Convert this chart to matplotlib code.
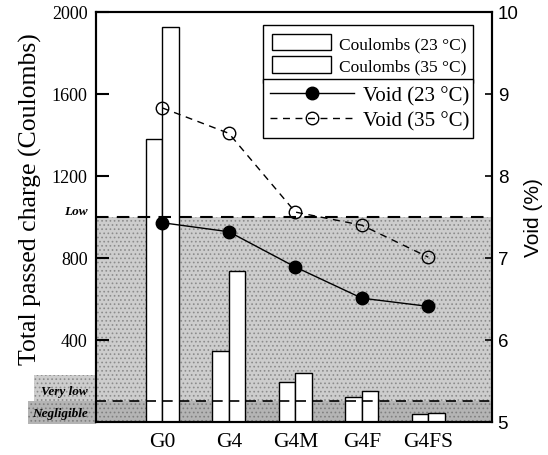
import matplotlib
matplotlib.use("Agg")
import matplotlib.pyplot as plt
from matplotlib.patches import Rectangle
import numpy as np

mixes = ["G0", "G4", "G4M", "G4F", "G4FS"]
charge_23 = [1380, 347, 196, 122, 39]
charge_35 = [1925, 738, 240, 150, 44]
void_23 = [7.43, 7.32, 6.89, 6.51, 6.41]
void_35 = [8.83, 8.52, 7.56, 7.40, 7.01]
limit_low = 1000
limit_very_low = 100

SERIF = "Liberation Serif"
SANS = "Liberation Sans"


def main():
    plt.rcParams["font.family"] = SERIF
    plt.rcParams["hatch.linewidth"] = 0.7

    fig = plt.figure(figsize=(5.48, 4.56), dpi=100)
    ax1 = fig.add_axes([0.175, 0.0724, 0.723, 0.8991])
    ax2 = ax1.twinx()

    x = np.arange(len(mixes))
    w = 0.25

    # shaded permeability classes
    ax1.axhspan(limit_very_low, limit_low, facecolor="#cdcdcd", edgecolor="#8c8c8c",
                hatch="....", lw=0, zorder=0)
    ax1.axhspan(0, limit_very_low, facecolor="#b4b4b4", edgecolor="#808080",
                hatch="....", lw=0, zorder=0)
    ax1.axhline(limit_low, color="black", lw=1.5, dashes=(6, 4), zorder=3)
    ax1.axhline(limit_very_low, color="black", lw=1.2, dashes=(6, 4), zorder=3)

    b23 = ax1.bar(x - w / 2, charge_23, w, facecolor="white", edgecolor="black",
                  lw=1, zorder=2, label="Coulombs (23 \u00b0C)")
    b35 = ax1.bar(x + w / 2, charge_35, w, facecolor="white", edgecolor="black",
                  lw=1, zorder=2, label="Coulombs (35 \u00b0C)")

    l23, = ax2.plot(x, void_23, "-o", color="black", lw=1, ms=9,
                    label="Void (23 \u00b0C)")
    l35, = ax2.plot(x, void_35, "--o", color="black", lw=1, ms=9, mfc="none",
                    dashes=(5, 4), label="Void (35 \u00b0C)")

    ax1.set_xlim(-1, 4.96)
    ax1.set_ylim(0, 2000)
    ax2.set_ylim(5, 10)

    ax1.set_xticks(x)
    ax1.set_xticklabels(mixes, fontsize=15.5)
    ax1.tick_params(axis="x", length=0, pad=7)
    ax1.set_yticks([400, 800, 1200, 1600, 2000])
    ax1.tick_params(axis="y", direction="in", length=9, width=1.5, labelsize=13, pad=6)
    ax1.set_ylabel("Total passed charge (Coulombs)", fontsize=18.5)
    ax1.yaxis.set_label_coords(-0.135, 0.545)

    ax2.set_yticks([5, 6, 7, 8, 9, 10])
    ax2.tick_params(axis="y", direction="in", length=5, width=1.2, pad=4)
    for t in ax2.get_yticklabels():
        t.set_fontfamily(SANS)
        t.set_fontsize(13.5)
    ax2.set_ylabel("Void (%)", fontsize=15, fontfamily=SANS, labelpad=4)

    for ax in (ax1, ax2):
        for s in ax.spines.values():
            s.set_linewidth(1.5)

    # class labels left of the axis
    ax1.add_patch(Rectangle((-0.155, 100 / 2000), 0.155, 0.065, transform=ax1.transAxes,
                            facecolor="#cdcdcd", edgecolor="#8c8c8c", hatch="....",
                            lw=0, clip_on=False, zorder=0))
    ax1.add_patch(Rectangle((-0.172, -0.005), 0.172, 0.055, transform=ax1.transAxes,
                            facecolor="#b4b4b4", edgecolor="#808080", hatch="....",
                            lw=0, clip_on=False, zorder=0))
    lab = dict(transform=ax1.get_yaxis_transform(), ha="right", va="center",
               fontsize=9.5, fontweight="bold", fontstyle="italic")
    ax1.text(-0.02, 1030, "Low", **lab)
    ax1.text(-0.02, 150, "Very low", **lab)
    ax1.text(-0.02, 45, "Negligible", **lab)

    leg1 = ax2.legend(handles=[b23, b35], loc="upper left",
                      bbox_to_anchor=(0.422, 0.837, 0.530, 0.131), mode="expand",
                      borderaxespad=0, fontsize=12.5, handlelength=3.4, handleheight=1.1,
                      handletextpad=0.45, labelspacing=0.25, borderpad=0.5,
                      fancybox=False, framealpha=1, edgecolor="black")
    leg1.get_frame().set_linewidth(1)
    ax2.add_artist(leg1)
    leg2 = ax2.legend(handles=[l23, l35], loc="upper left",
                      bbox_to_anchor=(0.422, 0.702, 0.530, 0.135), mode="expand",
                      borderaxespad=0, fontsize=15, handlelength=4.0,
                      handletextpad=0.45, labelspacing=0.25, borderpad=0.35,
                      fancybox=False, framealpha=1, edgecolor="black")
    leg2.get_frame().set_linewidth(1)

    fig.savefig("out.png", dpi=100)
    plt.close(fig)


if __name__ == "__main__":
    main()
